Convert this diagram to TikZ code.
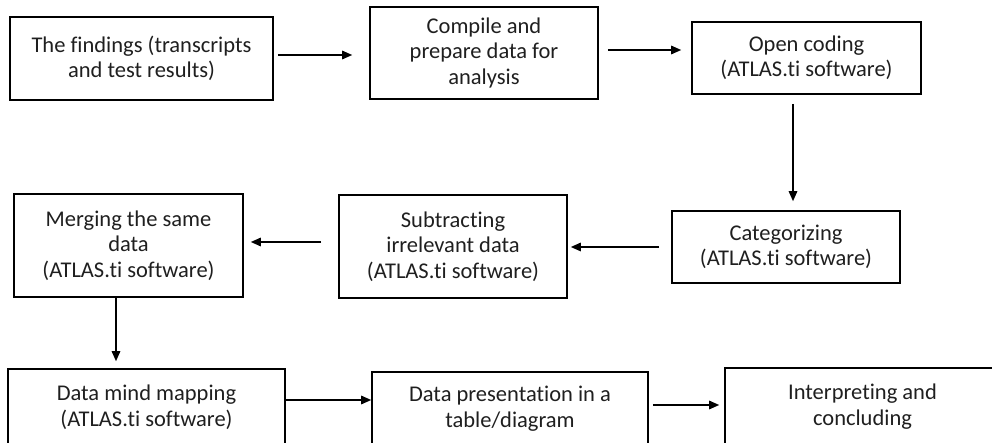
\documentclass[tikz,border=0pt]{standalone}
\usepackage{fontspec}
\setmainfont{Carlito}[Ligatures={NoCommon}]
\usetikzlibrary{arrows.meta,calc}
\begin{document}
\begin{tikzpicture}[x=1pt,y=-1pt,
  box/.style={draw=black,line width=1.6pt,rectangle,inner sep=0pt,align=center,
    text=black!88,font=\fontsize{22.5}{25.5}\selectfont},
  arr/.style={line width=1.4pt,-{Triangle[length=10pt,width=8.5pt]}}]
\useasboundingbox (0,0) rectangle (992,443);
\clip (0,0) rectangle (992,443);
\node[box,minimum width=263pt,minimum height=83pt] (b1) at (141.5,58.5) {The findings (transcripts\\and test results)};
\node[box,minimum width=228pt,minimum height=92pt] (b2) at (484,53) {Compile and\\prepare data for\\analysis};
\node[box,minimum width=229pt,minimum height=72pt] (b3) at (806.5,58) {Open coding\\(ATLAS.ti software)};
\node[box,minimum width=228pt,minimum height=72pt] (b4) at (786,247) {Categorizing\\(ATLAS.ti software)};
\node[box,minimum width=228pt,minimum height=103pt] (b5) at (453,246.5) {Subtracting\\irrelevant data\\(ATLAS.ti software)};
\node[box,minimum width=229pt,minimum height=103pt] (b6) at (128.5,245.5) {Merging the same\\data\\(ATLAS.ti software)};
\node[box,minimum width=277pt,minimum height=76pt] (b7) at (146.5,407) {Data mind mapping\\(ATLAS.ti software)};
\node[box,minimum width=276pt,minimum height=73pt] (b8) at (510,408.5) {Data presentation in a\\table/diagram};
\node[box,minimum width=275pt,minimum height=77pt] (b9) at (862.5,406.5) {Interpreting and\\concluding};
\draw[arr] ([shift={(4,-3.5)}]b1.east) -- ([shift={(-17,2)}]b2.west);
\draw[arr] ([shift={(9,-3)}]b2.east) -- ([shift={(-10,-8)}]b3.west);
\draw[arr] ([shift={(-13.5,9)}]b3.south) -- ([shift={(7,-9)}]b4.north);
\draw[arr] ([shift={(-12,0)}]b4.west) -- ([shift={(3,0.5)}]b5.east);
\draw[arr] ([shift={(-17,-4.5)}]b5.west) -- ([shift={(7,-3.5)}]b6.east);
\draw[arr] ([shift={(-12.5,0)}]b6.south) -- ([shift={(-30.5,-7)}]b7.north);
\draw[arr] ([shift={(0,-7)}]b7.east) -- ([shift={(0,-8.5)}]b8.west);
\draw[arr] ([shift={(4,-3.5)}]b8.east) -- ([shift={(-5,-1.5)}]b9.west);
\end{tikzpicture}
\end{document}
